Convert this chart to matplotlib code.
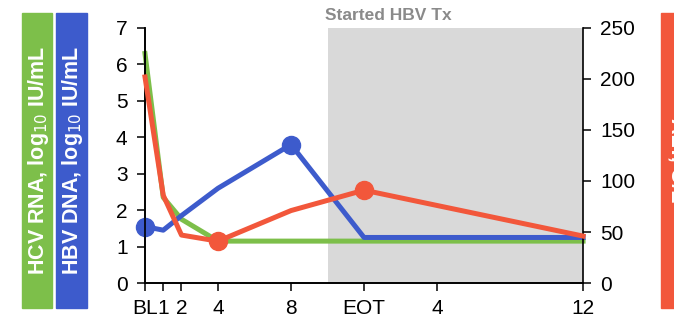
import matplotlib.pyplot as plt
from matplotlib.patches import Rectangle

plt.rcParams['font.family'] = ['Liberation Sans', 'DejaVu Sans']

# weeks on a common axis: BL=0 ... week 8, EOT=12, post-treatment weeks after
x_pos = [0, 1, 2, 4, 8, 12, 24]
x_ticks = [0, 1, 2, 4, 8, 12, 16, 24]
x_labels = ['BL', '1', '2', '4', '8', 'EOT', '4', '12']

hcv_rna = [6.3, 2.35, 1.75, 1.15, 1.15, 1.15, 1.15]
hbv_dna = [1.55, 1.45, 1.85, 2.6, 3.8, 1.25, 1.25]
alt = [202, 86, 47, 41, 71, 91, 46]

hbv_marks = [0, 4]   # indices with markers
alt_marks = [3, 5]

green = '#7dbf4a'
blue = '#3d5bcc'
red = '#f2573b'

fig = plt.figure(figsize=(6.74, 3.2), dpi=100)
ax = fig.add_axes([0.2151, 0.1156, 0.65, 0.797])
ax2 = ax.twinx()

ax.axvspan(10, 24, color='#d9d9d9', lw=0, zorder=0)

ax.plot(x_pos, hcv_rna, color=green, lw=3.6, zorder=2, clip_on=False)
ax.plot(x_pos, hbv_dna, color=blue, lw=3.6, zorder=3, clip_on=False)
ax.plot([x_pos[i] for i in hbv_marks], [hbv_dna[i] for i in hbv_marks], 'o',
        color=blue, ms=13, zorder=4, clip_on=False)
ax2.plot(x_pos, alt, color=red, lw=3.6, zorder=3, clip_on=False)
ax2.plot([x_pos[i] for i in alt_marks], [alt[i] for i in alt_marks], 'o',
         color=red, ms=13, zorder=4, clip_on=False)

ax.set_xlim(0, 24)
ax.set_ylim(0, 7)
ax2.set_ylim(0, 250)
ax.set_xticks(x_ticks)
ax.set_xticklabels(x_labels)
ax.set_yticks(range(8))
ax2.set_yticks(range(0, 251, 50))

for a in (ax, ax2):
    a.spines['top'].set_visible(False)
    a.tick_params(axis='y', labelsize=15, length=5.5, width=1.1,
                  direction='out', pad=7)
    for s in a.spines.values():
        s.set_linewidth(1.2)
ax.tick_params(axis='x', labelsize=15, length=5.5, width=1.1,
               direction='out', pad=6)
ax.spines['right'].set_visible(False)

fig.text(0.4822, 0.928, 'Started HBV Tx', color='#8a8a8a', fontsize=12.5,
         fontweight='bold', ha='left', va='bottom')

# coloured axis-title boxes
fig.patches.append(Rectangle((0.0326, 0.0375), 0.0446, 0.9215, color=green,
                             transform=fig.transFigure, figure=fig))
fig.patches.append(Rectangle((0.0831, 0.0375), 0.0460, 0.9215, color=blue,
                             transform=fig.transFigure, figure=fig))
fig.patches.append(Rectangle((0.9807, 0.0375), 0.05, 0.9215, color=red,
                             transform=fig.transFigure, figure=fig))
fig.text(0.0565, 0.5, 'HCV RNA, log$_{10}$ IU/mL', rotation=90, color='white',
         fontsize=15.5, fontweight='bold', ha='center', va='center')
fig.text(0.1076, 0.5, 'HBV DNA, log$_{10}$ IU/mL', rotation=90, color='white',
         fontsize=15.5, fontweight='bold', ha='center', va='center')
fig.text(1.004, 0.5, 'ALT, U/L', rotation=-90, color='white',
         fontsize=15.5, fontweight='bold', ha='center', va='center')

fig.savefig('out.png', dpi=100)
